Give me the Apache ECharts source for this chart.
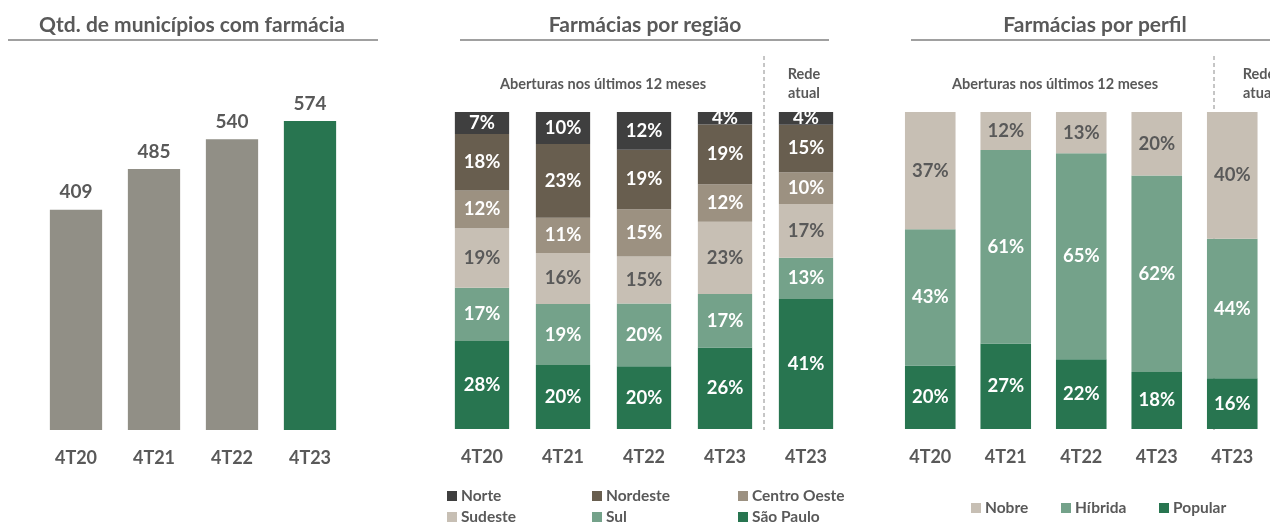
<!DOCTYPE html>
<html>
<head>
<meta charset="utf-8">
<script src="https://cdn.jsdelivr.net/npm/echarts@6/dist/echarts.min.js"></script>
<style>
  html, body { margin: 0; padding: 0; background: #fff; }
  #main { width: 1270px; height: 525px; }
</style>
</head>
<body>
<div id="main"></div>
<script>
// dados
var anos = ['4T20', '4T21', '4T22', '4T23'];
var municipios = [409, 485, 540, 574];

var colunas = ['4T20', '4T21', '4T22', '4T23', '4T23'];
var norte = [7, 10, 12, 4, 4];
var nordeste = [18, 23, 19, 19, 15];
var centroOeste = [12, 11, 15, 12, 10];
var sudeste = [19, 16, 15, 23, 17];
var sul = [17, 19, 20, 17, 13];
var saoPaulo = [28, 20, 20, 26, 41];

var nobre = [37, 12, 13, 20, 40];
var hibrida = [43, 61, 65, 62, 44];
var popular = [20, 27, 22, 18, 16];

var cinza = '#595959';
var fonte = 'Lato';

var dom = document.getElementById('main');
var myChart = echarts.init(dom);

// regiao: barras normalizadas p/ 100%
var regioes = [
    {name: 'São Paulo', data: saoPaulo, color: '#287550', txt: '#fff'},
    {name: 'Sul', data: sul, color: '#74a28a', txt: '#fff'},
    {name: 'Sudeste', data: sudeste, color: '#c7bfb4', txt: cinza},
    {name: 'Centro Oeste', data: centroOeste, color: '#9c9181', txt: '#fff'},
    {name: 'Nordeste', data: nordeste, color: '#685e4f', txt: '#fff'},
    {name: 'Norte', data: norte, color: '#3f3f3f', txt: '#fff'}
];
var somas = colunas.map(function (c, i) {
    return regioes.reduce(function (s, r) { return s + r.data[i]; }, 0);
});

var perfis = [
    {name: 'Popular', data: popular, color: '#287550', txt: '#fff'},
    {name: 'Híbrida', data: hibrida, color: '#74a28a', txt: '#fff'},
    {name: 'Nobre', data: nobre, color: '#c7bfb4', txt: cinza}
];

function labelPct(txt) {
    return {
        show: true, position: 'inside', color: txt,
        fontFamily: fonte, fontWeight: 'bold', fontSize: 18.5,
        formatter: function (p) { return p.data.raw + '%'; }
    };
}

var series = [];
series.push({
    type: 'bar', xAxisIndex: 0, yAxisIndex: 0,
    barCategoryGap: '33%',
    data: municipios,
    itemStyle: {color: function (p) { return p.dataIndex === 3 ? '#287550' : '#918f86'; }},
    label: {show: true, position: 'top', distance: 8, color: cinza,
        fontFamily: fonte, fontWeight: 'bold', fontSize: 19}
});
regioes.forEach(function (r) {
    series.push({
        name: r.name, type: 'bar', stack: 'regiao', xAxisIndex: 1, yAxisIndex: 1,
        barCategoryGap: '33%',
        itemStyle: {color: r.color},
        data: r.data.map(function (v, i) { return {value: v * 100 / somas[i], raw: v}; }),
        label: labelPct(r.txt)
    });
});
perfis.forEach(function (r) {
    series.push({
        name: r.name, type: 'bar', stack: 'perfil', xAxisIndex: 2, yAxisIndex: 2,
        barCategoryGap: '33%',
        itemStyle: {color: r.color},
        data: r.data.map(function (v) { return {value: v, raw: v}; }),
        label: labelPct(r.txt)
    });
});

function eixoX(idx, dados) {
    return {
        type: 'category', gridIndex: idx, data: dados,
        axisLine: {show: false}, axisTick: {show: false},
        axisLabel: {margin: 19, color: cinza, fontFamily: fonte, fontWeight: 'bold', fontSize: 18}
    };
}
function eixoY(idx, max) {
    return {type: 'value', gridIndex: idx, min: 0, max: max, show: false, splitLine: {show: false}};
}

function legenda(nome, x, y) {
    return {
        data: [nome], left: x, top: y, padding: 0, icon: 'rect',
        itemWidth: 10, itemHeight: 10, itemGap: 5, selectedMode: false,
        textStyle: {color: cinza, fontFamily: fonte, fontWeight: 'bold', fontSize: 15.5, padding: [0, 0, 0, -1]}
    };
}

function texto(t, x, y, size, align) {
    return {
        type: 'text', x: x, y: y, silent: true,
        style: {text: t, textAlign: align || 'center', textVerticalAlign: 'middle',
            font: 'bold ' + size + 'px ' + fonte, fill: cinza, lineHeight: 19}
    };
}
function linha(x1, y1, x2, y2, tracejada) {
    return {
        type: 'line', silent: true,
        shape: {x1: x1, y1: y1, x2: x2, y2: y2},
        style: tracejada ? {stroke: '#8c8c8c', lineWidth: 1, lineDash: [4, 3]}
                         : {stroke: '#a0a0a0', lineWidth: 2}
    };
}

option = {
    animation: false,
    grid: [
        {left: 37, top: 107, width: 312, height: 323},
        {left: 441.5, top: 112, width: 405, height: 317},
        {left: 892.5, top: 112, width: 405, height: 317}
    ],
    xAxis: [eixoX(0, anos), eixoX(1, colunas), eixoX(2, colunas)],
    yAxis: [eixoY(0, 600), eixoY(1, 100), eixoY(2, 100)],
    legend: [
        legenda('Norte', 447, 488), legenda('Nordeste', 592, 488), legenda('Centro Oeste', 738, 488),
        legenda('Sudeste', 447, 509), legenda('Sul', 592, 509), legenda('São Paulo', 738, 509),
        legenda('Nobre', 971, 500), legenda('Híbrida', 1061, 500), legenda('Popular', 1159, 500)
    ],
    graphic: [
        texto('Qtd. de municípios com farmácia', 192, 25, 21),
        linha(8, 40, 378, 40),
        texto('Farmácias por região', 645, 25, 21),
        linha(460, 40, 829, 40),
        texto('Farmácias por perfil', 1095, 25, 21),
        linha(911, 40, 1280, 40),
        texto('Aberturas nos últimos 12 meses', 603, 84, 14.5),
        texto('Rede\natual', 804, 84, 14.5),
        linha(764, 56, 764, 430, true),
        texto('Aberturas nos últimos 12 meses', 1055, 84, 14.5),
        texto('Rede\natual', 1259, 84, 14.5),
        linha(1214, 56, 1214, 430, true)
    ],
    series: series
};

if (option && typeof option === "object") {
    myChart.setOption(option, true);
}
</script>
</body>
</html>
